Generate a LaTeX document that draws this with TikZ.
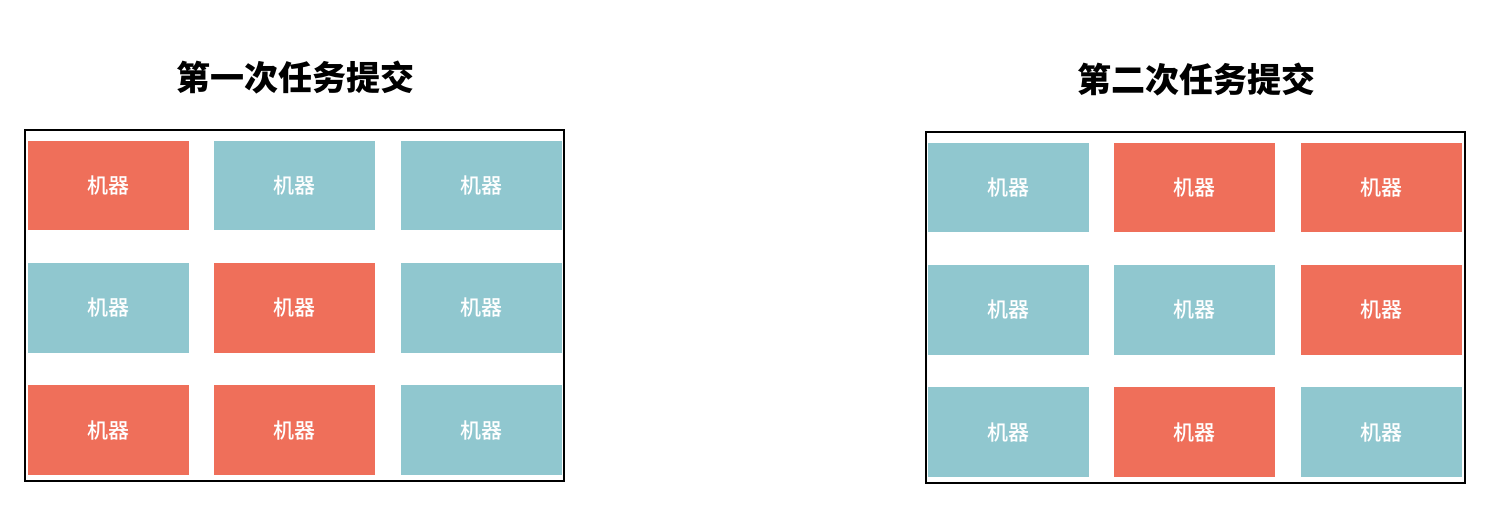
\documentclass[tikz,border=0pt]{standalone}
\usepackage{fontspec}
\newfontfamily\cjk{Noto Sans CJK SC}
\newfontfamily\cjkmid{Noto Sans CJK SC Medium}
\usetikzlibrary{positioning}
\definecolor{busyred}{HTML}{EF6F5A}
\definecolor{idleblue}{HTML}{90C7CF}

\begin{document}
\begin{tikzpicture}[
  x=0.5pt, y=-0.5pt,
  node distance=16pt and 12.25pt,
  machine/.style={minimum width=80.5pt, minimum height=44.75pt, inner sep=0pt,
                  text=white, font=\cjkmid\fontsize{10.5}{12}\selectfont},
  busy/.style={machine, fill=busyred},
  idle/.style={machine, fill=idleblue},
  title/.style={font=\cjk\bfseries\fontsize{17}{20}\selectfont},
  frame/.style={draw, line width=1pt}
]
\useasboundingbox (0,0) rectangle (1506,522);

% first submission
\node[title] (t1) at (295,78) {第一次任务提交};
\draw[frame] (25,130) rectangle (564,481);
\node[busy] (a11) at (108.5,185.5) {机器};
\node[idle, right=of a11] (a12) {机器};
\node[idle, right=of a12] (a13) {机器};
\node[idle, below=of a11] (a21) {机器};
\node[busy, right=of a21] (a22) {机器};
\node[idle, right=of a22] (a23) {机器};
\node[busy, below=of a21] (a31) {机器};
\node[busy, right=of a31] (a32) {机器};
\node[idle, right=of a32] (a33) {机器};

% second submission
\node[title] (t2) at (1196,80) {第二次任务提交};
\draw[frame] (926,132) rectangle (1465,483);
\node[idle] (b11) at (1008.5,187.5) {机器};
\node[busy, right=of b11] (b12) {机器};
\node[busy, right=of b12] (b13) {机器};
\node[idle, below=of b11] (b21) {机器};
\node[idle, right=of b21] (b22) {机器};
\node[busy, right=of b22] (b23) {机器};
\node[idle, below=of b21] (b31) {机器};
\node[busy, right=of b31] (b32) {机器};
\node[idle, right=of b32] (b33) {机器};
\end{tikzpicture}
\end{document}
